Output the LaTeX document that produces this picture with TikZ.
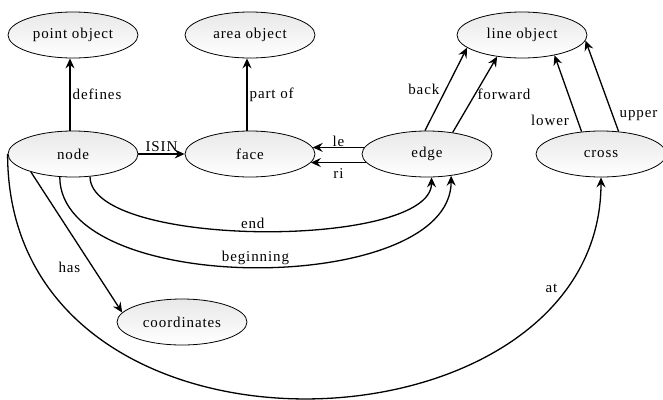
\documentclass[tikz,border=0pt]{standalone}
\usepackage{fontspec}
\setmainfont{Liberation Serif}[LetterSpace=6]
\usetikzlibrary{shapes.geometric,arrows.meta}
\begin{document}
\begin{tikzpicture}[x=1pt,y=1pt,
  font=\fontsize{15}{18}\selectfont,
  obj/.style={ellipse, draw=black, line width=0.8pt, top color=black!9, bottom color=white,
              minimum width=130pt, minimum height=46pt, inner sep=0pt},
  rel/.style={line width=1.3pt, -{Stealth[length=10pt,width=9pt,inset=3.5pt]}},
  lbl/.style={inner sep=2pt}]
\useasboundingbox (0,0) rectangle (663,-399);
\node[obj] (point) at (73,-35) {point object};
\node[obj] (area) at (250,-35) {area object};
\node[obj] (line) at (522,-35) {line object};
\node[obj] (nd) at (73,-154) {node};
\node[obj] (face) at (250,-154) {face};
\node[obj] (edge) at (427,-154) {edge};
\node[obj] (cross) at (601,-154) {cross};
\node[obj] (coord) at (182,-322) {coordinates};

\draw[rel] ([xshift=-3pt]nd.north) -- node[lbl,right]{defines} ([xshift=-3pt]point.south);
\draw[rel] ([xshift=-3pt]face.north) -- node[lbl,right]{part of} ([xshift=-3pt]area.south);
\draw[rel] (nd.east) -- node[lbl,above]{ISIN} (face.west);
\draw[rel] (edge.174) -- node[inner sep=0.5pt,above]{le} (face.6);
\draw[rel] (edge.188) -- node[lbl,below=3pt]{ri} (face.-8);
\draw[rel] (edge.95) -- node[lbl,left=4pt]{back} (line.-167);
\draw[rel] (edge.40) -- node[lbl,right]{forward} (line.-139);
\draw[rel] (cross.131) -- node[lbl,pos=0.15,left=6pt]{lower} (line.-32);
\draw[rel] (cross.52) -- node[lbl,pos=0.17,right=4pt]{upper} (line.-5);
\draw[rel] (nd.-53) to[out=-90,in=-90,out distance=72pt,in distance=72pt]
   node[lbl,above,xshift=-8pt]{end} (edge.-79);
\draw[rel] (nd.-120) to[out=-90,in=-90,out distance=121pt,in distance=121pt]
   node[lbl,above]{beginning} (edge.-42);
\draw[rel] (nd.-157) -- node[lbl,pos=0.68,left=10pt]{has} (coord.171);
\draw[rel] (nd.west) to[out=-90,in=-90,out distance=335pt,in distance=285pt]
   node[lbl,pos=0.85,left=5pt]{at} (cross.south);
\end{tikzpicture}
\end{document}
